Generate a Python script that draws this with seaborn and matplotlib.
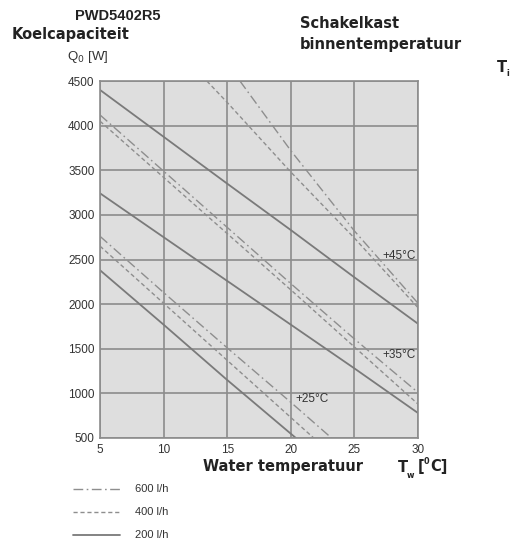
import matplotlib
matplotlib.use("Agg")
import matplotlib.pyplot as plt
import seaborn as sns
import pandas as pd
from matplotlib.lines import Line2D
from matplotlib import font_manager as fm

sns.set_theme(style="white")
plt.rcParams['font.family'] = ['Liberation Sans', 'DejaVu Sans']

# ---- data ----
# Ti = 45 C
tw_45_200 = [5, 10, 15, 20, 25, 30]
q_45_200 = [4400, 3875, 3350, 2830, 2300, 1780]
tw_45_400 = [13.4, 15, 20, 25, 30]
q_45_400 = [4500, 4260, 3480, 2740, 1960]
tw_45_600 = [16, 20, 25, 30]
q_45_600 = [4500, 3720, 2820, 2010]
# Ti = 35 C
tw_35_200 = [5, 10, 15, 20, 25, 30]
q_35_200 = [3242, 2750, 2260, 1770, 1280, 780]
tw_35_400 = [5, 10, 15, 20, 25, 30]
q_35_400 = [4050, 3420, 2790, 2160, 1520, 880]
tw_35_600 = [5, 10, 15, 20, 25, 30]
q_35_600 = [4120, 3490, 2860, 2230, 1610, 1010]
# Ti = 25 C
tw_25_200 = [5, 10, 15, 20.4]
q_25_200 = [2380, 1770, 1150, 500]
tw_25_400 = [5, 10, 15, 20, 21.8]
q_25_400 = [2650, 2010, 1370, 730, 500]
tw_25_600 = [5, 10, 15, 20, 23.2]
q_25_600 = [2760, 2130, 1510, 900, 500]

flows = ["600 l/h", "400 l/h", "200 l/h"]
temp_labels = ["+45°C", "+35°C", "+25°C"]
x_ticks = [5, 10, 15, 20, 25, 30]
y_ticks = [500, 1000, 1500, 2000, 2500, 3000, 3500, 4000, 4500]

series = [
    ("45", "200 l/h", tw_45_200, q_45_200),
    ("45", "400 l/h", tw_45_400, q_45_400),
    ("45", "600 l/h", tw_45_600, q_45_600),
    ("35", "200 l/h", tw_35_200, q_35_200),
    ("35", "400 l/h", tw_35_400, q_35_400),
    ("35", "600 l/h", tw_35_600, q_35_600),
    ("25", "200 l/h", tw_25_200, q_25_200),
    ("25", "400 l/h", tw_25_400, q_25_400),
    ("25", "600 l/h", tw_25_600, q_25_600),
]
rows = []
for ti, fl, xs, ys in series:
    for x, y in zip(xs, ys):
        rows.append({"Ti": ti, "flow": fl, "Tw": x, "Q": y})
df = pd.DataFrame(rows)

styles = {
    "600 l/h": dict(color="#8e8e8e", lw=1.0, ls=(0, (7, 2.5, 1.2, 2.5))),
    "400 l/h": dict(color="#8e8e8e", lw=1.0, ls=(0, (3, 2))),
    "200 l/h": dict(color="#7a7a7a", lw=1.3, ls="-"),
}

fig = plt.figure(figsize=(5.25, 5.48), dpi=100)
ax = fig.add_axes([100/525, 1-438/548, 318/525, 357/548])
ax.set_facecolor("#dedede")

for (ti, fl), g in df.groupby(["Ti", "flow"], sort=False):
    st = styles[fl]
    sns.lineplot(data=g, x="Tw", y="Q", ax=ax, sort=False, estimator=None,
                 color=st["color"], linewidth=st["lw"], linestyle=st["ls"],
                 legend=False)

ax.set_xlim(5, 30)
ax.set_ylim(500, 4500)
ax.set_xticks(x_ticks)
ax.set_yticks(y_ticks)
ax.set_xticklabels([str(v) for v in x_ticks])
ax.set_yticklabels([str(v) for v in y_ticks])
ax.grid(True, color="#8c8c8c", linewidth=1.2)
ax.set_axisbelow(True)
for s in ax.spines.values():
    s.set_color("#8c8c8c")
    s.set_linewidth(1.2)
ax.tick_params(axis="both", length=0, labelsize=8.5, colors="#333333", pad=4)
ax.set_xlabel("")
ax.set_ylabel("")

# temperature labels
tkw = dict(fontsize=8.5, color="#333333", ha="right", va="center")
ax.text(29.8, 2540, temp_labels[0], **tkw)
ax.text(29.8, 1430, temp_labels[1], **tkw)
ax.text(23.0, 940, temp_labels[2], **tkw)

# condensed bold heading font
cond = fm.FontProperties(family="DejaVu Sans", weight="bold", stretch="condensed", size=11.7)
cond_s = fm.FontProperties(family="DejaVu Sans", weight="bold", stretch="condensed", size=6.5)
dark = "#222222"

fig.text(75/525, 1-16/548, "PWD5402R5", fontsize=10.5, fontweight="bold",
         color=dark, va="center", ha="left")
fig.text(12/525, 1-35/548, "Koelcapaciteit", fontproperties=cond,
         color=dark, va="center", ha="left")
fig.text(67/525, 1-57/548, r"Q$_0$ [W]", fontsize=9.5, color="#333333",
         va="center", ha="left")
fig.text(300/525, 1-23/548, "Schakelkast", fontproperties=cond,
         color=dark, va="center", ha="left")
fig.text(300/525, 1-45/548, "binnentemperatuur", fontproperties=cond,
         color=dark, va="center", ha="left")
fig.text(497/525, 1-67/548, "T", fontproperties=cond,
         color=dark, va="center", ha="left")
fig.text(506/525, 1-74/548, "i", fontproperties=cond_s,
         color=dark, va="center", ha="left")
fig.text(203/525, 1-467/548, "Water temperatuur", fontproperties=cond,
         color=dark, va="center", ha="left")
fig.text(398/525, 1-467/548, "T", fontproperties=cond,
         color=dark, va="center", ha="left")
fig.text(407/525, 1-475/548, "w", fontproperties=cond_s,
         color=dark, va="center", ha="left")
fig.text(418/525, 1-467/548, "[", fontproperties=cond,
         color=dark, va="center", ha="left")
fig.text(424/525, 1-462/548, "0", fontproperties=cond_s,
         color=dark, va="center", ha="left")
fig.text(430/525, 1-467/548, "C]", fontproperties=cond,
         color=dark, va="center", ha="left")

# legend
for i, fl in enumerate(flows):
    yy = 1 - (489 + 23*i)/548
    st = styles[fl]
    fig.add_artist(Line2D([73/525, 120/525], [yy, yy], transform=fig.transFigure,
                          color=st["color"], lw=st["lw"], ls=st["ls"]))
    fig.text(135/525, yy, fl, fontsize=8, color="#333333", va="center", ha="left")

fig.savefig("out.png", dpi=100)
